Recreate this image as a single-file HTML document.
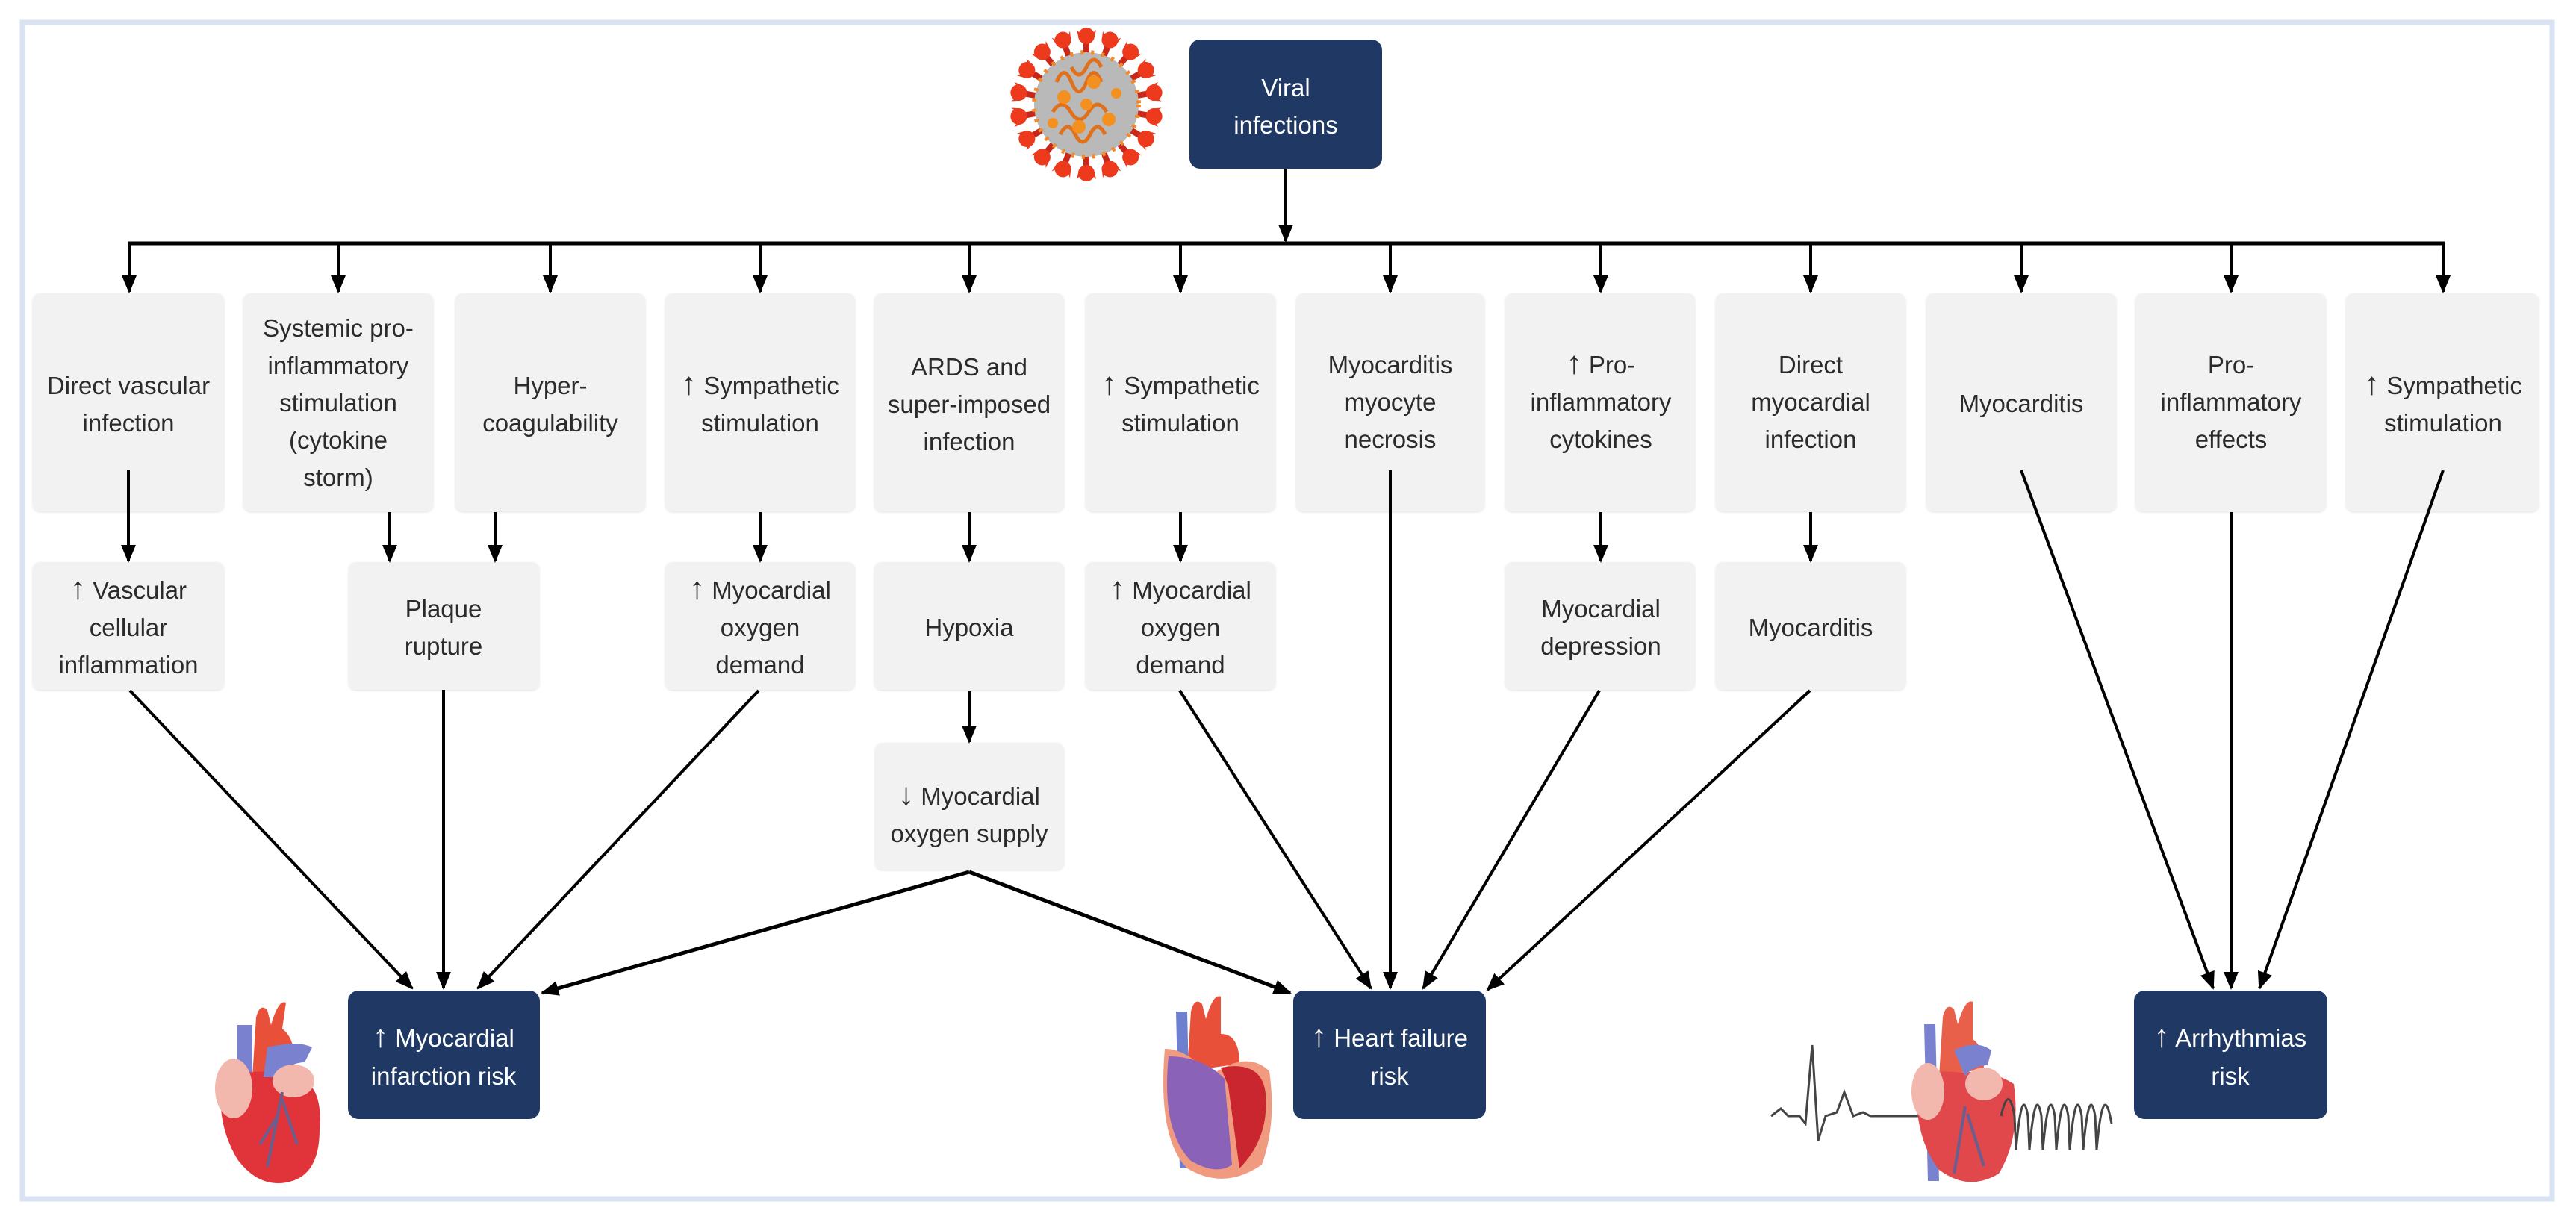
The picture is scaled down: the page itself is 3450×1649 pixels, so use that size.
<!DOCTYPE html>
<html><head><meta charset="utf-8"><style>
html,body{margin:0;padding:0;background:#fff;}
svg{display:block;}
text{font-family:"Liberation Sans",sans-serif;}
.ar{font-size:42px;}
</style></head><body>
<svg width="3450" height="1649" viewBox="0 0 3450 1649" xmlns="http://www.w3.org/2000/svg">
<defs>
<marker id="a" markerUnits="userSpaceOnUse" markerWidth="24" markerHeight="24" viewBox="0 0 24 24" refX="22" refY="12" orient="auto"><path d="M0,2 L24,12 L0,22 Z" fill="#000"/></marker>
<filter id="sh" x="-5%" y="-5%" width="110%" height="110%"><feDropShadow dx="0" dy="1" stdDeviation="1.5" flood-color="#000" flood-opacity="0.12"/></filter>
</defs>
<rect x="30" y="30" width="3388" height="1576" fill="#fff" stroke="#dae3f3" stroke-width="7"/>

<!-- virus -->
<g transform="translate(1455,140)">
<g fill="#ee3a1c">
<g id="sp"><rect x="-4" y="-88" width="8" height="20" fill="#c8281a"/><path d="M-13,-100 Q0,-85 13,-100 L10,-88 Q0,-80 -10,-88 Z"/><circle cx="0" cy="-92" r="11"/></g>
<use href="#sp" transform="rotate(20)"/><use href="#sp" transform="rotate(40)"/><use href="#sp" transform="rotate(60)"/><use href="#sp" transform="rotate(80)"/><use href="#sp" transform="rotate(100)"/><use href="#sp" transform="rotate(120)"/><use href="#sp" transform="rotate(140)"/><use href="#sp" transform="rotate(160)"/><use href="#sp" transform="rotate(180)"/><use href="#sp" transform="rotate(200)"/><use href="#sp" transform="rotate(220)"/><use href="#sp" transform="rotate(240)"/><use href="#sp" transform="rotate(260)"/><use href="#sp" transform="rotate(280)"/><use href="#sp" transform="rotate(300)"/><use href="#sp" transform="rotate(320)"/><use href="#sp" transform="rotate(340)"/>
</g>
<circle r="70" fill="#b9b9b9"/>
<circle r="70" fill="none" stroke="#f08a2a" stroke-width="6" stroke-dasharray="4 10"/>
<path d="M-40,-30 q10,-25 20,0 t20,0 t20,0 M-45,10 q12,-20 24,0 t24,0 t24,0 M-35,40 q10,-20 20,0 t20,0 t20,0 M-20,-50 q10,20 20,0 t20,0" fill="none" stroke="#e0701a" stroke-width="5"/>
<g fill="#f39020"><circle cx="-30" cy="-10" r="9"/><circle cx="10" cy="-30" r="9"/><circle cx="30" cy="20" r="9"/><circle cx="-10" cy="30" r="9"/><circle cx="0" cy="0" r="8"/><circle cx="-45" cy="25" r="7"/><circle cx="40" cy="-15" r="7"/></g>
</g>

<!-- Viral box -->
<rect x="1593" y="53" width="258" height="173" rx="14" fill="#1f3864"/>
<text x="1722" y="129" font-size="33" fill="#fff" text-anchor="middle">Viral</text>
<text x="1722" y="179" font-size="33" fill="#fff" text-anchor="middle">infections</text>

<g stroke="#000" stroke-width="4" fill="none">
<line x1="1722" y1="226" x2="1722" y2="323" marker-end="url(#a)"/>
<line x1="171" y1="326" x2="3274" y2="326" stroke-width="5"/>
<line x1="173" y1="326" x2="173" y2="391" marker-end="url(#a)"/>
<line x1="453" y1="326" x2="453" y2="391" marker-end="url(#a)"/>
<line x1="737" y1="326" x2="737" y2="391" marker-end="url(#a)"/>
<line x1="1018" y1="326" x2="1018" y2="391" marker-end="url(#a)"/>
<line x1="1298" y1="326" x2="1298" y2="391" marker-end="url(#a)"/>
<line x1="1581" y1="326" x2="1581" y2="391" marker-end="url(#a)"/>
<line x1="1862" y1="326" x2="1862" y2="391" marker-end="url(#a)"/>
<line x1="2144" y1="326" x2="2144" y2="391" marker-end="url(#a)"/>
<line x1="2425" y1="326" x2="2425" y2="391" marker-end="url(#a)"/>
<line x1="2707" y1="326" x2="2707" y2="391" marker-end="url(#a)"/>
<line x1="2988" y1="326" x2="2988" y2="391" marker-end="url(#a)"/>
<line x1="3272" y1="326" x2="3272" y2="391" marker-end="url(#a)"/>
</g>

<!-- row1 boxes -->
<g fill="#f2f2f2" filter="url(#sh)">
<rect x="44" y="393" width="256" height="292" rx="10"/>
<rect x="326" y="393" width="254" height="292" rx="10"/>
<rect x="610" y="393" width="254" height="292" rx="10"/>
<rect x="891" y="393" width="254" height="292" rx="10"/>
<rect x="1171" y="393" width="254" height="292" rx="10"/>
<rect x="1454" y="393" width="254" height="292" rx="10"/>
<rect x="1736" y="393" width="252" height="292" rx="10"/>
<rect x="2016" y="393" width="254" height="292" rx="10"/>
<rect x="2298" y="393" width="254" height="292" rx="10"/>
<rect x="2580" y="393" width="254" height="292" rx="10"/>
<rect x="2860" y="393" width="255" height="292" rx="10"/>
<rect x="3142" y="393" width="258" height="292" rx="10"/>
<rect x="44" y="753" width="256" height="171" rx="10"/>
<rect x="467" y="753" width="255" height="171" rx="10"/>
<rect x="891" y="753" width="254" height="171" rx="10"/>
<rect x="1171" y="753" width="254" height="171" rx="10"/>
<rect x="1454" y="753" width="254" height="171" rx="10"/>
<rect x="2016" y="753" width="254" height="171" rx="10"/>
<rect x="2298" y="753" width="254" height="171" rx="10"/>
<rect x="1172" y="995" width="253" height="170" rx="10"/>
</g>

<g font-size="33" fill="#2b2b2b" text-anchor="middle">
<text x="172" y="528">Direct vascular</text><text x="172" y="578">infection</text>
<text x="453" y="451">Systemic pro-</text><text x="453" y="501">inflammatory</text><text x="453" y="551">stimulation</text><text x="453" y="601">(cytokine</text><text x="453" y="651">storm)</text>
<text x="737" y="528">Hyper-</text><text x="737" y="578">coagulability</text>
<text x="1018" y="528"><tspan class="ar">↑</tspan> Sympathetic</text><text x="1018" y="578">stimulation</text>
<text x="1298" y="503">ARDS and</text><text x="1298" y="553">super-imposed</text><text x="1298" y="603">infection</text>
<text x="1581" y="528"><tspan class="ar">↑</tspan> Sympathetic</text><text x="1581" y="578">stimulation</text>
<text x="1862" y="500">Myocarditis</text><text x="1862" y="550">myocyte</text><text x="1862" y="600">necrosis</text>
<text x="2144" y="500"><tspan class="ar">↑</tspan> Pro-</text><text x="2144" y="550">inflammatory</text><text x="2144" y="600">cytokines</text>
<text x="2425" y="500">Direct</text><text x="2425" y="550">myocardial</text><text x="2425" y="600">infection</text>
<text x="2707" y="552">Myocarditis</text>
<text x="2988" y="500">Pro-</text><text x="2988" y="550">inflammatory</text><text x="2988" y="600">effects</text>
<text x="3272" y="528"><tspan class="ar">↑</tspan> Sympathetic</text><text x="3272" y="578">stimulation</text>

<text x="172" y="802"><tspan class="ar">↑</tspan> Vascular</text><text x="172" y="852">cellular</text><text x="172" y="902">inflammation</text>
<text x="594" y="827">Plaque</text><text x="594" y="877">rupture</text>
<text x="1018" y="802"><tspan class="ar">↑</tspan> Myocardial</text><text x="1018" y="852">oxygen</text><text x="1018" y="902">demand</text>
<text x="1298" y="852">Hypoxia</text>
<text x="1581" y="802"><tspan class="ar">↑</tspan> Myocardial</text><text x="1581" y="852">oxygen</text><text x="1581" y="902">demand</text>
<text x="2144" y="827">Myocardial</text><text x="2144" y="877">depression</text>
<text x="2425" y="852">Myocarditis</text>
<text x="1298" y="1078"><tspan class="ar">↓</tspan> Myocardial</text><text x="1298" y="1128">oxygen supply</text>
</g>

<g stroke="#000" stroke-width="4" fill="none">
<line x1="172" y1="630" x2="172" y2="752" marker-end="url(#a)"/>
<line x1="522" y1="686" x2="522" y2="752" marker-end="url(#a)"/>
<line x1="663" y1="686" x2="663" y2="752" marker-end="url(#a)"/>
<line x1="1018" y1="686" x2="1018" y2="752" marker-end="url(#a)"/>
<line x1="1298" y1="686" x2="1298" y2="752" marker-end="url(#a)"/>
<line x1="1581" y1="686" x2="1581" y2="752" marker-end="url(#a)"/>
<line x1="2144" y1="686" x2="2144" y2="752" marker-end="url(#a)"/>
<line x1="2425" y1="686" x2="2425" y2="752" marker-end="url(#a)"/>
<line x1="1298" y1="925" x2="1298" y2="994" marker-end="url(#a)"/>

<line x1="174" y1="925" x2="552" y2="1324" marker-end="url(#a)"/>
<line x1="594" y1="924" x2="594" y2="1324" marker-end="url(#a)"/>
<line x1="1016" y1="925" x2="640" y2="1324" marker-end="url(#a)"/>
<line x1="1298" y1="1168" x2="726" y2="1330" stroke-width="5" marker-end="url(#a)"/>
<line x1="1298" y1="1168" x2="1728" y2="1330" stroke-width="5" marker-end="url(#a)"/>
<line x1="1580" y1="925" x2="1836" y2="1324" marker-end="url(#a)"/>
<line x1="1862" y1="630" x2="1862" y2="1324" marker-end="url(#a)"/>
<line x1="2142" y1="925" x2="1906" y2="1324" marker-end="url(#a)"/>
<line x1="2424" y1="925" x2="1992" y2="1326" marker-end="url(#a)"/>
<line x1="2707" y1="630" x2="2964" y2="1324" marker-end="url(#a)"/>
<line x1="2988" y1="686" x2="2988" y2="1324" marker-end="url(#a)"/>
<line x1="3272" y1="630" x2="3026" y2="1324" marker-end="url(#a)"/>
</g>

<g fill="#1f3864">
<rect x="466" y="1327" width="257" height="172" rx="14"/>
<rect x="1732" y="1327" width="258" height="172" rx="14"/>
<rect x="2858" y="1327" width="259" height="172" rx="14"/>
</g>
<g font-size="33" fill="#fff" text-anchor="middle">
<text x="594" y="1402"><tspan class="ar">↑</tspan> Myocardial</text><text x="594" y="1453">infarction risk</text>
<text x="1861" y="1402"><tspan class="ar">↑</tspan> Heart failure</text><text x="1861" y="1453">risk</text>
<text x="2987" y="1402"><tspan class="ar">↑</tspan> Arrhythmias</text><text x="2987" y="1453">risk</text>
</g>

<g transform="translate(278,1333)">
<path d="M40,40 L40,200 L60,210 L60,40 Z" fill="#7a82cf"/>
<path d="M65,30 Q70,10 80,20 L85,40 Q95,5 105,10 L100,45 Q120,60 115,100 L60,110 Z" fill="#e8503a"/>
<path d="M20,110 Q10,170 40,220 Q70,260 110,250 Q150,240 150,180 Q155,120 120,110 Q80,95 20,110 Z" fill="#e1343a"/>
<path d="M80,70 Q120,60 140,70 L130,90 Q110,90 95,110 L75,110 Z" fill="#7a82cf"/>
<ellipse cx="35" cy="125" rx="25" ry="40" fill="#f2b8ae"/>
<ellipse cx="115" cy="115" rx="28" ry="22" fill="#f2b8ae"/>
<path d="M100,130 L80,230 M100,140 L120,200 M95,160 L70,200" stroke="#6a5e8f" stroke-width="4" fill="none"/>
</g>
<g transform="translate(1550,1325)">
<path d="M25,30 L40,30 L45,240 L30,240 Z" fill="#6e7fcf"/>
<path d="M45,30 Q50,10 60,20 L65,40 Q75,5 85,10 L85,60 Q110,60 110,100 L40,110 Z" fill="#e8503a"/>
<path d="M10,80 Q0,200 40,240 Q90,270 140,235 Q160,180 150,110 Q130,90 100,100 L70,115 Q40,80 10,80 Z" fill="#f09a80"/>
<path d="M15,90 Q5,190 45,230 Q80,250 100,235 L90,120 Q60,90 15,90 Z" fill="#8a62b8"/>
<path d="M85,105 Q140,95 145,140 Q150,200 110,240 L95,130 Z" fill="#c9262f"/>
</g>
<path d="M2372,1495 L2385,1485 L2395,1495 L2410,1495 L2418,1505 L2427,1400 L2435,1528 L2445,1495 L2460,1490 L2470,1463 L2482,1495 L2495,1490 L2505,1495 L2560,1495 L2600,1495 L2610,1420 L2620,1520 L2640,1490 L2680,1490" fill="none" stroke="#444" stroke-width="3"/>
<g transform="translate(2557,1332)">
<path d="M20,40 L35,40 L40,250 L25,250 Z" fill="#7a82cf"/>
<path d="M45,30 Q50,10 60,20 L65,40 Q75,5 85,10 L85,60 Q100,70 100,100 L40,110 Z" fill="#e8604a"/>
<path d="M10,110 Q5,190 40,235 Q80,265 120,240 Q150,190 140,120 Q110,100 70,105 Q30,100 10,110 Z" fill="#e0484c"/>
<path d="M60,75 Q90,60 110,75 L105,95 Q85,95 75,110 Z" fill="#7a82cf"/>
<ellipse cx="25" cy="130" rx="22" ry="38" fill="#f2b8ae"/>
<ellipse cx="100" cy="120" rx="25" ry="22" fill="#f2b8ae"/>
<path d="M75,150 L60,240 M78,160 L100,230" stroke="#6a5e8f" stroke-width="4" fill="none"/>
</g>
<path d="M2680,1495 Q2690,1450 2698,1495 L2700,1540 Q2708,1450 2716,1495 L2718,1540 Q2726,1450 2734,1495 L2736,1540 Q2744,1450 2752,1495 L2754,1540 Q2762,1450 2770,1495 L2772,1540 Q2780,1450 2788,1495 L2790,1540 Q2798,1450 2806,1495 L2808,1540 Q2816,1450 2826,1495 L2828,1505" fill="none" stroke="#444" stroke-width="3"/>
</svg>
</body></html>
